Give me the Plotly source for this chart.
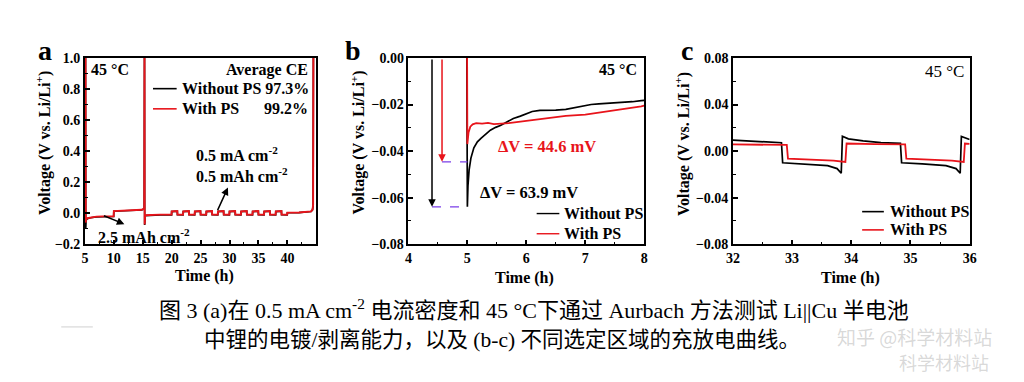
import plotly.graph_objects as go

# ---------------- data ----------------
# (a) Aurbach test at 45 °C, time (h) and voltage (V)
a_time = [5.10, 5.14, 5.20, 5.40, 6.0, 7.0, 8.0, 9.0, 9.97, 10.0, 11.0, 12.5, 14.0, 14.8, 15.25, 15.30, 15.33, 15.42, 16.5, 18.0, 19.98,
          20.0, 20.97, 21.0, 21.97, 22.0, 22.97, 23.0, 23.97, 24.0, 24.97, 25.0, 25.97, 26.0, 26.97, 27.0, 27.97,
          28.0, 28.97, 29.0, 29.97, 30.0, 30.97, 31.0, 31.97, 32.0, 32.97, 33.0, 33.97, 34.0, 34.97, 35.0, 35.97,
          36.0, 36.97, 37.0, 37.97, 38.0, 38.97, 39.0, 39.97, 40.0, 42.0, 43.4, 44.1, 44.35, 44.45, 44.5]
a_without_ps = [1.05, -0.10, -0.045, -0.035, -0.029, -0.024, -0.022, -0.021, -0.021, 0.013, 0.014, 0.015, 0.017, 0.021, 0.028, 1.05, -0.075, -0.015, -0.011, -0.010, -0.010,
                0.011, 0.013, -0.009, -0.010, 0.011, 0.013, -0.009, -0.010, 0.011, 0.013, -0.009, -0.010, 0.011, 0.013, -0.009, -0.010,
                0.011, 0.013, -0.009, -0.010, 0.011, 0.013, -0.009, -0.010, 0.011, 0.013, -0.009, -0.010, 0.011, 0.013, -0.009, -0.010,
                0.011, 0.013, -0.009, -0.010, 0.011, 0.013, -0.009, -0.010, 0.003, 0.004, 0.006, 0.011, 0.022, 0.05, 1.05]
a_with_ps = [1.05, -0.06, -0.040, -0.032, -0.027, -0.022, -0.020, -0.020, -0.019, 0.014, 0.015, 0.016, 0.018, 0.022, 0.030, 1.05, -0.072, -0.013, -0.010, -0.009, -0.009,
             0.012, 0.014, -0.008, -0.009, 0.012, 0.014, -0.008, -0.009, 0.012, 0.014, -0.008, -0.009, 0.012, 0.014, -0.008, -0.009,
             0.012, 0.014, -0.008, -0.009, 0.012, 0.014, -0.008, -0.009, 0.012, 0.014, -0.008, -0.009, 0.012, 0.014, -0.008, -0.009,
             0.012, 0.014, -0.008, -0.009, 0.012, 0.014, -0.008, -0.009, 0.004, 0.005, 0.007, 0.012, 0.024, 0.055, 1.05]

# (b) first plating, 4-8 h
b_time_without = [4.99, 5.0, 5.01, 5.03, 5.06, 5.11, 5.17, 5.23, 5.30, 5.39, 5.48, 5.56, 5.67, 5.78, 5.90, 6.0, 6.1, 6.23,
                  6.35, 6.5, 6.67, 6.8, 6.95, 7.1, 7.23, 7.4, 7.6, 7.8, 7.95, 8.0]
b_volt_without = [0.005, -0.0639, -0.055, -0.048, -0.043, -0.0386, -0.036, -0.0345, -0.033, -0.031, -0.0298, -0.029, -0.0275,
                  -0.026, -0.025, -0.024, -0.023, -0.0225, -0.0226, -0.0224, -0.0221, -0.0214, -0.0205, -0.0200, -0.0197,
                  -0.0195, -0.0192, -0.0188, -0.0183, -0.0182]
b_time_with = [4.995, 5.0, 5.02, 5.05, 5.09, 5.15, 5.25, 5.35, 5.45, 5.56, 5.7, 6.0, 6.3, 6.67, 7.0, 7.23, 7.5, 7.75, 7.95, 8.0]
b_volt_with = [0.005, -0.037, -0.032, -0.0295, -0.0285, -0.028, -0.0282, -0.0279, -0.0284, -0.0283, -0.028, -0.027, -0.026,
               -0.0249, -0.0243, -0.0235, -0.0225, -0.0215, -0.0208, -0.0205]

# (c) cycling, 32-36 h
c_time_without = [32.0, 32.4, 32.82, 32.84, 33.2, 33.6, 33.76, 33.83, 33.85, 33.95, 34.2, 34.5, 34.83, 34.85, 35.2, 35.6,
                  35.77, 35.84, 35.86, 35.95, 36.0]
c_volt_without = [0.0094, 0.0085, 0.0072, -0.0100, -0.0110, -0.0125, -0.0150, -0.0190, 0.0128, 0.0105, 0.0088, 0.0072,
                  0.0066, -0.0100, -0.0110, -0.0125, -0.0150, -0.0190, 0.0125, 0.0112, 0.0100]
c_time_with = [32.0, 32.5, 32.91, 32.93, 33.3, 33.7, 33.90, 33.92, 34.4, 34.91, 34.93, 35.3, 35.7, 35.90, 35.92, 36.0]
c_volt_with = [0.0057, 0.0055, 0.0053, -0.0065, -0.0072, -0.0082, -0.0093, 0.0065, 0.0060, 0.0058, -0.0065, -0.0072,
               -0.0082, -0.0093, 0.0065, 0.0062]

series_names = ["Without PS", "With PS"]
series_colors = ["#000000", "#e8141b"]
average_ce = ["97.3%", "99.2%"]
delta_v = ["44.6 mV", "63.9 mV"]

# ---------------- figure ----------------
W, H = 1024, 382
def X(px):
    return px / W
def Y(py):
    return 1 - py / H

SERIF = "Liberation Serif, Times New Roman, serif"
fig = go.Figure()

def add_line(x, y, i, xa, ya, width=1.7):
    fig.add_trace(go.Scatter(x=x, y=y, mode="lines", name=series_names[i],
                             line=dict(color=series_colors[i], width=width),
                             xaxis=xa, yaxis=ya, showlegend=False))

add_line(a_time, a_without_ps, 0, "x", "y")
add_line(a_time, a_with_ps, 1, "x", "y", 1.9)
add_line(b_time_without, b_volt_without, 0, "x2", "y2")
add_line(b_time_with, b_volt_with, 1, "x2", "y2", 1.8)
add_line(c_time_without, c_volt_without, 0, "x3", "y3")
add_line(c_time_with, c_volt_with, 1, "x3", "y3", 1.8)

tickfont = dict(family=SERIF, size=14, color="black", weight="bold")
def minor(dt):
    return dict(ticks="inside", ticklen=3, tickwidth=1, tickcolor="black", dtick=dt, showgrid=False)
def ax_style(**kw):
    d = dict(showline=True, linecolor="black", linewidth=1.5, mirror=True, ticks="inside", ticklen=5, tickwidth=1.5,
             tickcolor="black", showgrid=False, zeroline=False, tickfont=tickfont)
    d.update(kw)
    return d

ydom = [Y(247), Y(53)]
fig.update_layout(
    xaxis=ax_style(domain=[X(79), X(313)], range=[5, 44.9], dtick=5, tick0=5, anchor="y", minor=minor(2.5)),
    yaxis=ax_style(domain=ydom, range=[-0.2, 1.0], dtick=0.2, tickformat=".1f", anchor="x", minor=minor(0.1)),
    xaxis2=ax_style(domain=[X(407), X(646)], range=[4, 8], dtick=1, anchor="y2", minor=minor(0.5)),
    yaxis2=ax_style(domain=ydom, range=[-0.08, 0.0], dtick=0.02, tickformat=".2f", anchor="x2", minor=minor(0.01)),
    xaxis3=ax_style(domain=[X(736), X(976)], range=[32, 36], dtick=1, anchor="y3", minor=minor(0.5)),
    yaxis3=ax_style(domain=ydom, range=[-0.08, 0.08], dtick=0.04, tickformat=".2f", anchor="x3", minor=minor(0.02)),
    width=W, height=H, autosize=False, margin=dict(l=0, r=0, t=0, b=0, pad=0),
    paper_bgcolor="white", plot_bgcolor="white", showlegend=False,
)

ann = []
shapes = []
def text(px, py, s, size=16, color="black", xanchor="center", bold=True, family=SERIF, angle=0):
    ann.append(dict(x=X(px), y=Y(py), xref="paper", yref="paper", text=s, showarrow=False,
                    xanchor=xanchor, yanchor="middle", textangle=angle,
                    font=dict(family=family, size=size, color=color, weight="bold" if bold else "normal")))

# panel letters
text(39, 45, "a", size=28)
text(351, 45, "b", size=28)
text(689, 45, "c", size=28)

# axis titles
ytitle = "Voltage (V vs. Li/Li<sup>+</sup>)"
text(37, 141, ytitle, size=16, angle=-90)
text(356, 141, ytitle, size=16, angle=-90)
text(685, 143, ytitle, size=16, angle=-90)
text(200, 280, "Time (h)", size=16)
text(525, 282, "Time (h)", size=16)
text(855, 282, "Time (h)", size=16)

# panel a texts
text(83, 65, "45 °C", size=16, xanchor="left")
text(307, 66, "Average CE", size=16, xanchor="right")
for i, py in enumerate([85, 106]):
    shapes.append(dict(type="line", xref="paper", yref="paper", x0=X(148), x1=X(172), y0=Y(py), y1=Y(py),
                       line=dict(color=series_colors[i], width=1.6)))
text(175, 85, series_names[0] + " " + average_ce[0], size=16, xanchor="left")
text(175, 106, series_names[1], size=16, xanchor="left")
text(307, 106, average_ce[1], size=16, xanchor="right")
text(190, 153, "0.5 mA cm<sup>-2</sup>", size=16, xanchor="left")
text(190, 175, "0.5 mAh cm<sup>-2</sup>", size=16, xanchor="left")
text(90, 238, "2.5 mAh cm<sup>-2</sup>", size=16, xanchor="left")
ann.append(dict(x=X(224), y=Y(188), xref="paper", yref="paper", ax=-11, ay=24, showarrow=True, text="",
                arrowhead=2, arrowsize=1, arrowwidth=1.5, arrowcolor="black", standoff=0))
ann.append(dict(x=X(119), y=Y(226), xref="paper", yref="paper", ax=-22, ay=-9, showarrow=True, text="",
                arrowhead=2, arrowsize=1, arrowwidth=1.5, arrowcolor="black", standoff=0))

# panel b texts
text(641, 65, "45 °C", size=16, xanchor="right")
text(547, 145, "ΔV = " + delta_v[0], size=16.5, color=series_colors[1])
text(529, 193, "ΔV = " + delta_v[1], size=16.5)
for i, py in enumerate([215, 236]):
    shapes.append(dict(type="line", xref="paper", yref="paper", x0=X(537), x1=X(560), y0=Y(py), y1=Y(py),
                       line=dict(color=series_colors[i], width=1.4)))
    text(563, py, series_names[i], size=16, xanchor="left")
ann.append(dict(x=4.4, y=-0.0639, xref="x2", yref="y2", ax=4.4, ay=0.0, axref="x2", ayref="y2", showarrow=True,
                text="", arrowhead=2, arrowsize=1, arrowwidth=1.5, arrowcolor="black", standoff=0))
ann.append(dict(x=4.57, y=-0.0446, xref="x2", yref="y2", ax=4.57, ay=0.0, axref="x2", ayref="y2", showarrow=True,
                text="", arrowhead=2, arrowsize=1, arrowwidth=1.5, arrowcolor=series_colors[1], standoff=0))
shapes.append(dict(type="line", xref="x2", yref="y2", x0=4.4, x1=5.0, y0=-0.0639, y1=-0.0639,
                   line=dict(color="#7a3ee8", width=1.3, dash="dash")))
shapes.append(dict(type="line", xref="x2", yref="y2", x0=4.57, x1=5.0, y0=-0.0446, y1=-0.0446,
                   line=dict(color="#7a3ee8", width=1.3, dash="dash")))

# panel c texts
text(972, 67, "45 °C", size=17, xanchor="right", bold=False)
for i, py in enumerate([213, 232]):
    shapes.append(dict(type="line", xref="paper", yref="paper", x0=X(867), x1=X(889), y0=Y(py), y1=Y(py),
                       line=dict(color=series_colors[i], width=1.6)))
    text(893, py, series_names[i], size=16, xanchor="left")

# caption
CAP = "Liberation Serif, Noto Sans CJK SC, serif"
text(152, 314, "图 3 (a)在 0.5 mA cm<sup>-2</sup> 电流密度和 45 °C下通过 Aurbach 方法测试 Li||Cu 半电池",
     size=22, xanchor="left", bold=False, family=CAP)
text(198, 347, "中锂的电镀/剥离能力，以及 (b-c) 不同选定区域的充放电曲线。",
     size=21.5, xanchor="left", bold=False, family=CAP)
shapes.append(dict(type="line", xref="paper", yref="paper", x0=X(55), x1=X(87), y0=Y(333), y1=Y(333),
                   line=dict(color="#d0d0d0", width=1)))

# watermark
text(920, 343, "知乎 @科学材料站", size=19, bold=False, family="Noto Sans CJK SC",
     color="rgba(170,170,170,0.45)")
text(950, 370, "科学材料站", size=18, bold=False, family="Noto Sans CJK SC",
     color="rgba(170,170,170,0.45)")

fig.update_layout(annotations=ann, shapes=shapes)
fig.write_html("out.html", config={"responsive": False, "displayModeBar": False},
               post_script="document.body.style.margin='0px';document.body.style.padding='0px';")
